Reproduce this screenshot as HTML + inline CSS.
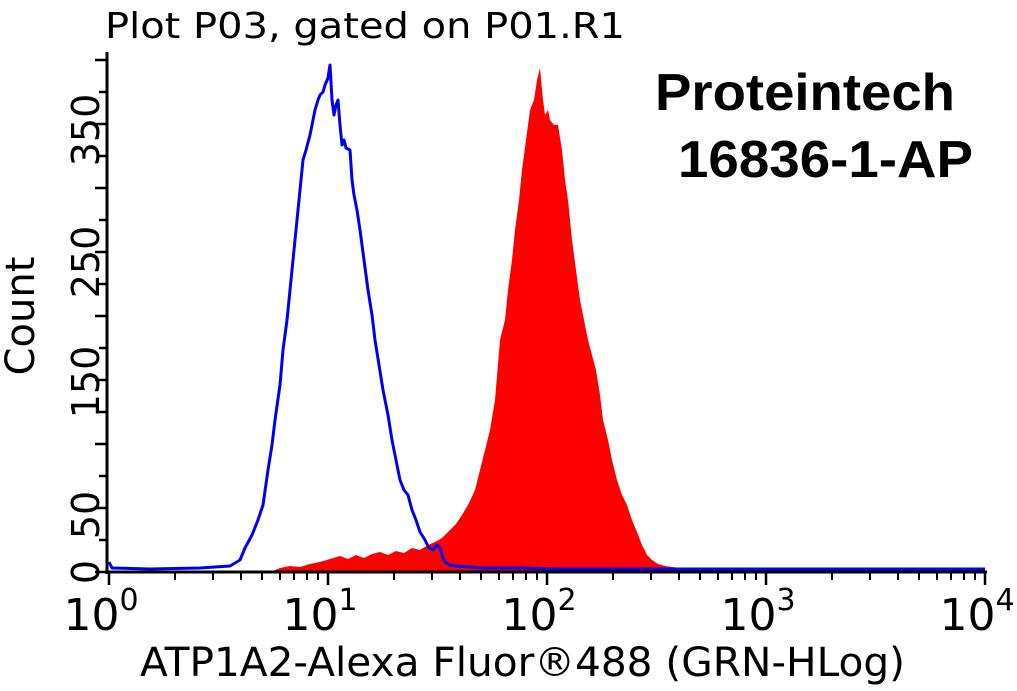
<!DOCTYPE html>
<html><head><style>
body{margin:0;background:#fff;}
svg text{font-family:"DejaVu Sans","Liberation Sans",sans-serif;}
</style></head><body>
<svg width="1017" height="686" viewBox="0 0 1017 686" xmlns="http://www.w3.org/2000/svg">
<rect width="1017" height="686" fill="#fff"/>
<text x="105" y="38" font-size="36" textLength="520" lengthAdjust="spacingAndGlyphs">Plot P03, gated on P01.R1</text>
<polygon fill="#ff0000" points="270,572 280,568 290,566 300,567 310,564 320,562 330,559 340,556 348,559 356,555 364,558 372,554 380,552 388,555 396,551 404,553 412,548 420,550 428,545 435,542 442,538 450,530 456,524 462,515 468,505 475,490 480,470 485,450 490,430 495,400 500,340 505,320 508,290 512,260 515,230 519,200 522,170 526,140 530,110 534,100 537,80 540,68 543,100 545,115 548,110 550,120 554,125 558,125 562,150 565,180 568,200 572,240 576,270 580,300 584,320 588,340 592,355 596,370 600,395 603,420 608,440 612,460 617,480 622,495 627,505 632,520 637,532 642,545 647,555 652,560 658,564 665,566 680,568 690,569 720,571 985,571 985,572"/>
<polyline fill="none" stroke="#0000ee" stroke-width="3" stroke-linejoin="round" points="109,562 112,568 150,569 200,568 230,566 240,560 245,548 252,535 258,520 263,505 268,470 272,445 275,420 280,385 283,350 287,320 290,290 294,250 297,220 300,190 303,160 306,150 310,135 313,120 315,110 318,100 320,95 323,92 325,85 328,78 330,65 332,100 334,115 336,105 338,100 340,125 342,145 344,140 346,148 350,150 352,180 354,195 357,210 360,230 364,260 368,290 372,315 375,340 379,365 383,390 388,415 392,440 396,460 400,480 404,490 408,495 412,510 416,520 420,532 425,540 429,548 433,550 437,545 440,548 443,558 445,562 450,565 455,566 470,567 480,568 520,568 550,569 985,569"/>
<g stroke="#000" stroke-width="3" fill="none">
<line x1="107" y1="52" x2="107" y2="574"/>
<line x1="105" y1="572" x2="987" y2="572"/>
</g>
<g stroke="#000" stroke-width="2.5">
<line x1="95" y1="572" x2="107" y2="572"/><line x1="99" y1="540" x2="107" y2="540"/><line x1="95" y1="508" x2="107" y2="508"/><line x1="99" y1="476" x2="107" y2="476"/><line x1="95" y1="444" x2="107" y2="444"/><line x1="99" y1="412" x2="107" y2="412"/><line x1="95" y1="380" x2="107" y2="380"/><line x1="99" y1="348" x2="107" y2="348"/><line x1="95" y1="316" x2="107" y2="316"/><line x1="99" y1="284" x2="107" y2="284"/><line x1="95" y1="252" x2="107" y2="252"/><line x1="99" y1="220" x2="107" y2="220"/><line x1="95" y1="188" x2="107" y2="188"/><line x1="99" y1="156" x2="107" y2="156"/><line x1="95" y1="124" x2="107" y2="124"/><line x1="99" y1="92" x2="107" y2="92"/><line x1="95" y1="60" x2="107" y2="60"/>
</g>
<g stroke="#000" stroke-width="2.5">
<line x1="109" y1="572" x2="109" y2="585"/><line x1="328" y1="572" x2="328" y2="585"/><line x1="547" y1="572" x2="547" y2="585"/><line x1="766" y1="572" x2="766" y2="585"/><line x1="985" y1="572" x2="985" y2="585"/>
</g>
<g stroke="#000" stroke-width="2">
<line x1="175" y1="572" x2="175" y2="580"/><line x1="213" y1="572" x2="213" y2="580"/><line x1="241" y1="572" x2="241" y2="580"/><line x1="262" y1="572" x2="262" y2="580"/><line x1="280" y1="572" x2="280" y2="580"/><line x1="294" y1="572" x2="294" y2="580"/><line x1="307" y1="572" x2="307" y2="580"/><line x1="318" y1="572" x2="318" y2="580"/>
<line x1="394" y1="572" x2="394" y2="580"/><line x1="432" y1="572" x2="432" y2="580"/><line x1="460" y1="572" x2="460" y2="580"/><line x1="481" y1="572" x2="481" y2="580"/><line x1="499" y1="572" x2="499" y2="580"/><line x1="513" y1="572" x2="513" y2="580"/><line x1="526" y1="572" x2="526" y2="580"/><line x1="537" y1="572" x2="537" y2="580"/>
<line x1="613" y1="572" x2="613" y2="580"/><line x1="651" y1="572" x2="651" y2="580"/><line x1="679" y1="572" x2="679" y2="580"/><line x1="700" y1="572" x2="700" y2="580"/><line x1="718" y1="572" x2="718" y2="580"/><line x1="732" y1="572" x2="732" y2="580"/><line x1="745" y1="572" x2="745" y2="580"/><line x1="756" y1="572" x2="756" y2="580"/>
<line x1="832" y1="572" x2="832" y2="580"/><line x1="870" y1="572" x2="870" y2="580"/><line x1="898" y1="572" x2="898" y2="580"/><line x1="919" y1="572" x2="919" y2="580"/><line x1="937" y1="572" x2="937" y2="580"/><line x1="951" y1="572" x2="951" y2="580"/><line x1="964" y1="572" x2="964" y2="580"/><line x1="975" y1="572" x2="975" y2="580"/>
</g>
<g font-size="38" text-anchor="middle">
<text transform="translate(99,572) rotate(-90)">0</text>
<text transform="translate(99,515) rotate(-90)">50</text>
<text transform="translate(99,382) rotate(-90)">150</text>
<text transform="translate(99,262) rotate(-90)">250</text>
<text transform="translate(99,130) rotate(-90)">350</text>
</g>
<text transform="translate(34,316) rotate(-90)" font-size="40" text-anchor="middle">Count</text>
<g font-size="44" text-anchor="middle">
<text x="101" y="630">10<tspan font-size="30" dy="-20">0</tspan></text>
<text x="320" y="630">10<tspan font-size="30" dy="-20">1</tspan></text>
<text x="539" y="630">10<tspan font-size="30" dy="-20">2</tspan></text>
<text x="758" y="630">10<tspan font-size="30" dy="-20">3</tspan></text>
<text x="977" y="630">10<tspan font-size="30" dy="-20">4</tspan></text>
</g>
<text x="140" y="676" font-size="40" textLength="765" lengthAdjust="spacingAndGlyphs">ATP1A2-Alexa Fluor®488 (GRN-HLog)</text>
<g font-weight="bold" font-size="52">
<text x="655" y="110" textLength="300" lengthAdjust="spacingAndGlyphs" style="font-family:'Liberation Sans',sans-serif">Proteintech</text>
<text x="678" y="177" textLength="295" lengthAdjust="spacingAndGlyphs" style="font-family:'Liberation Sans',sans-serif">16836-1-AP</text>
</g>
</svg>
</body></html>
